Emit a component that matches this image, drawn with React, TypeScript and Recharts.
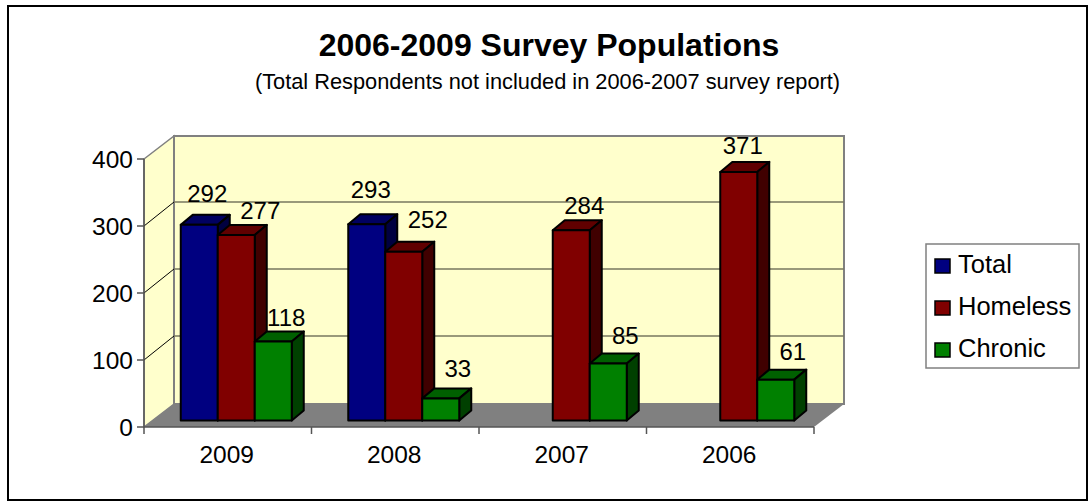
import { Bar, BarChart, CartesianGrid, LabelList, Legend, XAxis, YAxis } from 'recharts';

const categories = ['2009', '2008', '2007', '2006'];
const totalValues = [292, 293, null, null];
const homelessValues = [277, 252, 284, 371];
const chronicValues = [118, 33, 85, 61];
const valueTicks = [0, 100, 200, 300, 400];

const data = categories.map((year, i) => ({
  year,
  Total: totalValues[i],
  Homeless: homelessValues[i],
  Chronic: chronicValues[i],
}));

const WIDTH = 1088;
const HEIGHT = 502;
const FONT = '"Liberation Sans", Arial, sans-serif';

// front plane of the 3D box
const LEFT = 144;
const RIGHT = 814;
const TOP = 159;
const BOTTOM = 427;
const BAND = (RIGHT - LEFT) / categories.length;

// how far the back wall sits from the front plane
const BOX_DX = 30;
const BOX_DY = -23;
// bars stand partway into the box, and have their own depth
const BAR_DX = 9;
const BAR_DY = -6.5;
const DEPTH_DX = 12;
const DEPTH_DY = -10;

// per-bar label placement, relative to the top centre of the front face
const labelNudge: Record<string, [number, number][]> = {
  Total: [[8, -31], [4, -35], [0, 0], [0, 0]],
  Homeless: [[24, -24], [24, -32], [13, -25], [4, -26]],
  Chronic: [[13, -24], [17, -30], [17, -28], [17, -28]],
};

function Box3D(props: any) {
  const { x, y, width, height, fill, topFill, sideFill, value } = props;
  if (value == null || !height) return null;
  const l = x + BAR_DX;
  const r = l + width;
  const t = y + BAR_DY;
  const b = t + height;
  const stroke = { stroke: '#000', strokeWidth: 2, strokeLinejoin: 'round' as const };
  return (
    <g>
      <polygon
        points={`${l},${t} ${r},${t} ${r + DEPTH_DX},${t + DEPTH_DY} ${l + DEPTH_DX},${t + DEPTH_DY}`}
        fill={topFill}
        {...stroke}
      />
      <polygon
        points={`${r},${t} ${r + DEPTH_DX},${t + DEPTH_DY} ${r + DEPTH_DX},${b + DEPTH_DY} ${r},${b}`}
        fill={sideFill}
        {...stroke}
      />
      <rect x={l} y={t} width={width} height={height} fill={fill} {...stroke} />
    </g>
  );
}

function barLabel(series: string) {
  return (props: any) => {
    const { x, y, width, value, index } = props;
    if (value == null) return null;
    const [dx, dy] = labelNudge[series][index];
    return (
      <text
        x={x + BAR_DX + width / 2 + dx}
        y={y + BAR_DY + dy}
        textAnchor="middle"
        dominantBaseline="central"
        fontSize={24}
        fontFamily={FONT}
        fill="#000"
      >
        {value}
      </text>
    );
  };
}

// back wall gridline plus the diagonal running across the side wall
function GridLine(props: any) {
  const { x1, x2, y1 } = props;
  if (y1 <= TOP + 1 || y1 >= BOTTOM - 1) return <g key={props.key} />;
  const backY = y1 + BOX_DY - 1;
  return (
    <g key={props.key}>
      <line x1={x1} y1={y1} x2={x1 + BOX_DX} y2={backY} stroke="#000" strokeWidth={1} />
      <line x1={x1 + BOX_DX} y1={backY} x2={x2 + BOX_DX} y2={backY} stroke="#77775f" strokeWidth={1.5} />
    </g>
  );
}

function YearTick(props: any) {
  const { x, y, payload, index } = props;
  const start = x - BAND / 2;
  return (
    <g>
      <line x1={start} y1={BOTTOM} x2={start} y2={BOTTOM + 7} stroke="#555" strokeWidth={1.5} />
      {index === categories.length - 1 && (
        <line x1={start + BAND} y1={BOTTOM} x2={start + BAND} y2={BOTTOM + 7} stroke="#555" strokeWidth={1.5} />
      )}
      <text x={x - 1} y={y + 19} textAnchor="middle" dominantBaseline="central" fontSize={24.5} fontFamily={FONT} fill="#000">
        {payload.value}
      </text>
    </g>
  );
}

function LegendBox({ payload }: any) {
  return (
    <svg width={156} height={127} style={{ display: 'block' }}>
      <rect x={1} y={1} width={153} height={124} fill="#fff" stroke="#808080" strokeWidth={1.5} />
      {(payload ?? []).map((item: any, i: number) => (
        <g key={item.value}>
          <rect x={10} y={16 + i * 42} width={15} height={14} fill={item.color} stroke="#000" strokeWidth={1.5} />
          <text x={33} y={21 + i * 42} dominantBaseline="central" fontSize={25.5} fontFamily={FONT} fill="#000">
            {item.value}
          </text>
        </g>
      ))}
    </svg>
  );
}

export default function App() {
  return (
    <div style={{ position: 'absolute', left: 0, top: 0, width: WIDTH, height: HEIGHT, background: '#fff' }}>
      <BarChart
        width={WIDTH}
        height={HEIGHT}
        data={data}
        margin={{ top: TOP, right: WIDTH - RIGHT, bottom: HEIGHT - BOTTOM - 40, left: LEFT - 60 }}
        barCategoryGap={27.75}
        barGap={0}
      >
        <rect x={8} y={6} width={1079} height={494} fill="#fff" stroke="#000" strokeWidth={2} />
        <text x={549} y={45} textAnchor="middle" dominantBaseline="central" fontSize={32} fontWeight="bold" fontFamily={FONT} fill="#000">
          2006-2009 Survey Populations
        </text>
        <text x={547.5} y={81} textAnchor="middle" dominantBaseline="central" fontSize={21.8} fontFamily={FONT} fill="#000">
          (Total Respondents not included in 2006-2007 survey report)
        </text>

        <polygon
          points={`${LEFT},${TOP} ${LEFT + BOX_DX},${TOP + BOX_DY} ${LEFT + BOX_DX},${BOTTOM + BOX_DY} ${LEFT},${BOTTOM}`}
          fill="#ffffcc"
          stroke="#808080"
          strokeWidth={1.5}
        />
        <rect
          x={LEFT + BOX_DX}
          y={TOP + BOX_DY}
          width={RIGHT - LEFT}
          height={BOTTOM - TOP}
          fill="#ffffcc"
          stroke="#808080"
          strokeWidth={2}
        />
        <polygon
          points={`${LEFT},${BOTTOM} ${RIGHT},${BOTTOM} ${RIGHT + BOX_DX},${BOTTOM + BOX_DY} ${LEFT + BOX_DX},${BOTTOM + BOX_DY}`}
          fill="#808080"
        />
        <CartesianGrid vertical={false} horizontal={GridLine as any} zIndex={1} />

        <XAxis
          dataKey="year"
          height={40}
          axisLine={{ stroke: '#555', strokeWidth: 1.5 }}
          tickLine={false}
          tick={YearTick}
          interval={0}
        />
        <YAxis
          width={60}
          domain={[0, 400]}
          ticks={valueTicks}
          interval={0}
          axisLine={{ stroke: '#555', strokeWidth: 1.5 }}
          tickLine={{ stroke: '#555', strokeWidth: 1.5 }}
          tickSize={7}
          tickMargin={4}
          tick={{ fontSize: 24.5, fontFamily: FONT, fill: '#000' }}
        />
        <Legend
          layout="vertical"
          align="center"
          verticalAlign="middle"
          itemSorter={null}
          content={LegendBox}
          wrapperStyle={{ left: 925, top: 243, width: 156, height: 127 }}
        />
        <Bar dataKey="Total" fill="#000080" isAnimationActive={false} shape={(p: any) => <Box3D {...p} topFill="#000060" sideFill="#000040" />}>
          <LabelList dataKey="Total" content={barLabel('Total')} />
        </Bar>
        <Bar dataKey="Homeless" fill="#800000" isAnimationActive={false} shape={(p: any) => <Box3D {...p} topFill="#600000" sideFill="#400000" />}>
          <LabelList dataKey="Homeless" content={barLabel('Homeless')} />
        </Bar>
        <Bar dataKey="Chronic" fill="#008000" isAnimationActive={false} shape={(p: any) => <Box3D {...p} topFill="#006000" sideFill="#004000" />}>
          <LabelList dataKey="Chronic" content={barLabel('Chronic')} />
        </Bar>
      </BarChart>
    </div>
  );
}
